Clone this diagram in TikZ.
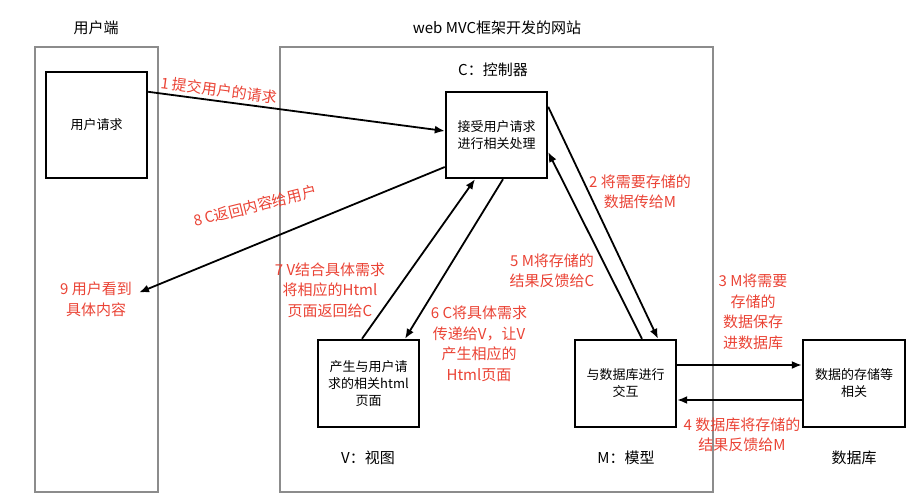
\documentclass[tikz,border=0pt]{standalone}
\usepackage{fontspec}
\setmainfont{Noto Sans CJK SC}
\usetikzlibrary{arrows.meta}
\definecolor{labelred}{RGB}{234,67,53}
\definecolor{zonegray}{RGB}{140,140,140}
\tikzset{
	zone/.style={draw=zonegray, line width=2pt},
	block/.style={draw, line width=2.4pt, minimum width=101pt, minimum height=87pt, align=center, inner sep=2pt, font=\fontsize{13}{17}\selectfont},
	heading/.style={inner sep=0pt, font=\fontsize{15}{20}\selectfont},
	steplabel/.style={text=labelred, align=center, inner sep=0pt, font=\fontsize{15}{20.5}\selectfont},
	flow/.style={line width=1.8pt, -{Latex[length=10pt,width=8pt]}}
}

\begin{document}
\begin{tikzpicture}[x=1pt, y=-1pt]
	\useasboundingbox (0, 0) rectangle (915, 500);
	% Frames and headings:
	\draw[zone] (35, 47) rectangle (158, 492);
	\draw[zone] (280, 47) rectangle (713, 492);
	\node[heading](userhead) at (96, 28){用户端};
	\node[heading](sitehead) at (497, 28){web MVC框架开发的网站};
	\node[heading](ctrlhead) at (493, 70){C：控制器};
	\node[heading](viewhead) at (368, 458){V：视图};
	\node[heading](modelhead) at (626, 458){M：模型};
	\node[heading](dbhead) at (854, 458){数据库};
	% Blocks:
	\node[block, minimum height=106pt](user) at (96.5, 125){用户请求};
	\node[block, minimum height=86pt](ctrl) at (496.5, 135){接受用户请求\\进行相关处理};
	\node[block](view) at (368.5, 383.5){产生与用户请\\求的相关html\\页面};
	\node[block](model) at (625.5, 383.5){与数据库进行\\交互};
	\node[block, minimum width=102pt](db) at (854, 383.5){数据的存储等\\相关};
	% Step labels:
	\node[steplabel, rotate=-7.5](s1) at (219, 90){1 提交用户的请求};
	\node[steplabel](s2) at (640, 192){2 将需要存储的\\数据传给M};
	\node[steplabel](s3) at (753, 312){3 M将需要\\存储的\\数据保存\\进数据库};
	\node[steplabel](s4) at (742, 435){4 数据库将存储的\\结果反馈给M};
	\node[steplabel](s5) at (552, 271){5 M将存储的\\结果反馈给C};
	\node[steplabel](s6) at (479, 344){6 C将具体需求\\传递给V，让V\\产生相应的\\Html页面};
	\node[steplabel](s7) at (330, 290){7 V结合具体需求\\将相应的Html\\页面返回给C};
	\node[steplabel, rotate=14](s8) at (255, 206){8 C返回内容给用户};
	\node[steplabel](s9) at (96, 299.5){9 用户看到\\具体内容};
	% Arrows:
	\draw[flow] ([yshift=-21pt]user.north east) -- ([yshift=4pt]ctrl.west);
	\draw[flow] ([yshift=-16pt]ctrl.north east) -- ([xshift=32.5pt]model.north);
	\draw[flow] ([yshift=18.5pt]model.east) -- ([yshift=18.5pt]db.west);
	\draw[flow] ([yshift=-16.5pt]db.west) -- ([yshift=-16.5pt]model.east);
	\draw[flow] ([xshift=16.5pt]model.north) -- ([yshift=-17pt]ctrl.east);
	\draw[flow] ([xshift=6.5pt]ctrl.south) -- ([xshift=36.5pt]view.north);
	\draw[flow] ([xshift=-6.5pt]view.north) -- ([xshift=-21.5pt]ctrl.south);
	\draw[flow] ([yshift=-32pt]ctrl.west) -- ([xshift=7pt, yshift=7pt]s9.east);
\end{tikzpicture}
\end{document}
